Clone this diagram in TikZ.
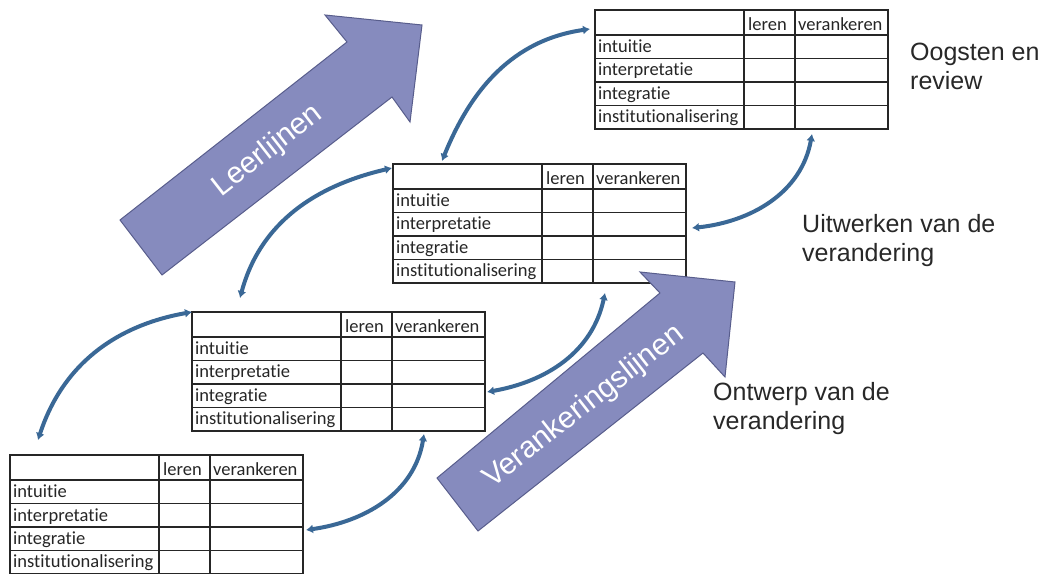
\documentclass[tikz,border=0pt]{standalone}
\usepackage{fontspec}
\setmainfont{Liberation Sans}
\newfontfamily\tabelfont[Ligatures=NoCommon]{Carlito}
\usetikzlibrary{arrows.meta}

\definecolor{pijlvlak}{RGB}{134,139,190}
\definecolor{pijlrand}{RGB}{88,93,140}
\definecolor{boog}{RGB}{58,104,150}
\definecolor{fasetekst}{RGB}{40,40,40}

\tikzset{
  tabel/.style={line width=1.2pt, draw=black!85},
  cel/.style={anchor=base west, inner sep=0pt, text=black!85,
    font=\tabelfont\fontsize{18.5}{20}\selectfont},
  blokpijl/.style={fill=pijlvlak, draw=pijlrand, line width=1pt},
  pijltekst/.style={text=white, inner sep=0pt, rotate=38,
    font=\fontsize{30}{34}\selectfont},
  boogpijl/.style={draw=boog, line width=4pt,
    {Latex[length=7pt,width=9pt]}-{Latex[length=7pt,width=9pt]}},
  fase/.style={anchor=north west, align=left, inner sep=0pt, text=fasetekst,
    font=\fontsize{25}{29}\selectfont}
}

% tabel: naam, x, y van de linkerbovenhoek
\newcommand{\kader}[3]{%
  \begin{scope}[shift={(#2,#3)}]
    \coordinate (#1-nw) at (0,0);
    \draw[tabel] (0,0) rectangle (293,-119);
    \foreach \rij in {-25,-48.5,-72,-95.5}
      \draw[tabel] (0,\rij) -- (293,\rij);
    \foreach \kol in {149,200}
      \draw[tabel] (\kol,0) -- (\kol,-119);
    \node[cel] (#1-leren) at (153,-21) {leren};
    \node[cel] (#1-veranker) at (203,-21) {verankeren};
    \foreach \nr/\woord/\y in {1/intuitie/-42.5, 2/interpretatie/-66,
        3/integratie/-89.5, 4/institutionalisering/-112.5}
      \node[cel] (#1-r\nr) at (3,\y) {\woord};
  \end{scope}}

\begin{document}
\begin{tikzpicture}[x=1pt, y=1pt]

    \useasboundingbox (0,0) rectangle (1049,573);
    \fill[white] (0,0) rectangle (1049,573);

    % De vier tabellen
    \kader{t1}{10}{118}
    \kader{t2}{192}{261}
    \kader{t3}{393}{409}
    \kader{t4}{595}{563}

    % Blokpijlen
    \draw[blokpijl] (120,353) -- (347,531) -- (325,558) -- (422,548)
        -- (410,451) -- (392,476) -- (162,298) -- cycle;
    \node[pijltekst] (leerlijnen) at (268,422) {Leerlijnen};

    \draw[blokpijl] (437,95) -- (660,280) -- (640,301) -- (735,291)
        -- (725,196) -- (703,220) -- (478,42) -- cycle;
    \node[pijltekst] (verankering) at (584,166) {Verankeringslijnen};

    % Aanhechtpunten van de bogen
    \coordinate (a-van) at ([shift={(28,15)}]t1-nw);
    \coordinate (b-van) at ([shift={(296,-75)}]t1-nw);
    \coordinate (b-naar) at ([shift={(232,-122)}]t2-nw);
    \coordinate (c-van) at ([shift={(48,14)}]t2-nw);
    \coordinate (c-naar) at ([shift={(-1,-4)}]t3-nw);
    \coordinate (d-van) at ([shift={(295,-80)}]t2-nw);
    \coordinate (d-naar) at ([shift={(212,-129)}]t3-nw);
    \coordinate (e-van) at ([shift={(49,3)}]t3-nw);
    \coordinate (e-naar) at ([shift={(-5,-19)}]t4-nw);
    \coordinate (f-van) at ([shift={(299,-64)}]t3-nw);
    \coordinate (f-naar) at ([shift={(217,-124)}]t4-nw);

    % Bogen tussen de tabellen
    \draw[boogpijl] (a-van) to[out=72, in=190] (t2-nw);
    \draw[boogpijl] (c-van) to[out=75, in=193] (c-naar);
    \draw[boogpijl] (e-van) to[out=68, in=188] (e-naar);
    \draw[boogpijl] (b-van) to[out=8, in=-99] (b-naar);
    \draw[boogpijl] (d-van) to[out=10, in=-102] (d-naar);
    \draw[boogpijl] (f-van) to[out=6, in=-100] (f-naar);

    % Fasen
    \node[fase] (oogsten) at (910,530) {Oogsten en\\review};
    \node[fase] (uitwerken) at (802,359) {Uitwerken van de\\verandering};
    \node[fase] (ontwerp) at (713,191) {Ontwerp van de\\verandering};

\end{tikzpicture}
\end{document}
